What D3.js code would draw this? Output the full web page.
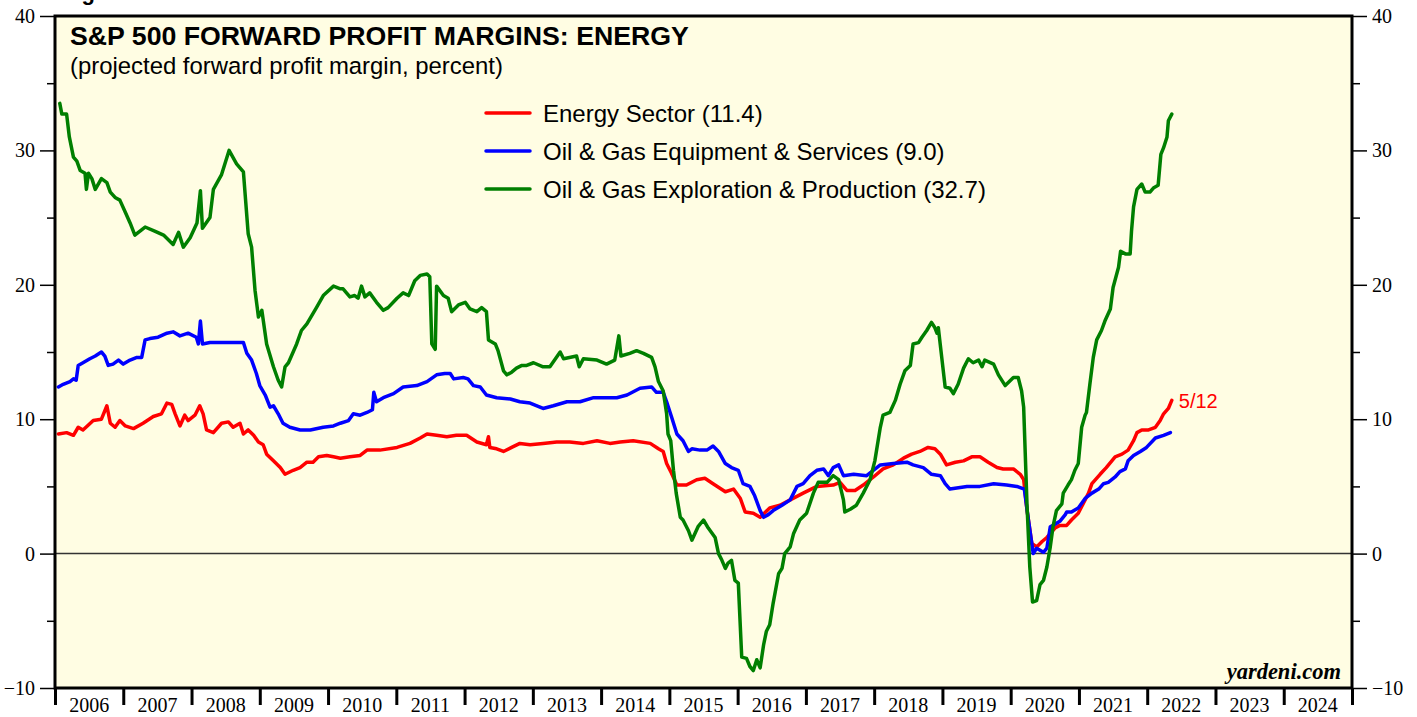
<!DOCTYPE html>
<html>
<head>
<meta charset="utf-8">
<script src="https://cdn.jsdelivr.net/npm/d3@7"></script>
<style>
    html, body { margin: 0; padding: 0; background: #ffffff; }
    svg { display: block; }
    .tick text { font-family: "Liberation Serif", "Times New Roman", serif; }
</style>
</head>
<body>
<div id="plot"></div>
<script>
// Data: [decimal year, percent].
const energy_sector = [
    [2006.05,8.9],[2006.17,9.0],[2006.27,8.8],[2006.34,9.4],[2006.41,9.2],[2006.56,9.9],[2006.68,10.0],
    [2006.76,11.0],[2006.81,9.7],[2006.88,9.4],[2006.95,9.9],[2007.03,9.5],[2007.15,9.3],[2007.29,9.7],
    [2007.44,10.2],[2007.56,10.4],[2007.64,11.2],[2007.71,11.1],[2007.76,10.4],[2007.83,9.5],[2007.90,10.3],
    [2007.95,9.9],[2008.05,10.3],[2008.12,11.0],[2008.17,10.4],[2008.22,9.2],[2008.32,9.0],[2008.44,9.7],
    [2008.54,9.8],[2008.61,9.4],[2008.71,9.7],[2008.76,8.9],[2008.83,9.2],[2008.91,8.8],[2008.98,8.3],
    [2009.05,8.1],[2009.10,7.4],[2009.20,6.9],[2009.30,6.4],[2009.37,5.9],[2009.49,6.2],[2009.59,6.4],
    [2009.69,6.8],[2009.78,6.8],[2009.86,7.2],[2009.98,7.3],[2010.08,7.2],[2010.18,7.1],[2010.32,7.2],
    [2010.47,7.3],[2010.57,7.7],[2010.76,7.7],[2011.01,7.9],[2011.20,8.2],[2011.35,8.6],[2011.45,8.9],
    [2011.59,8.8],[2011.74,8.7],[2011.88,8.8],[2012.03,8.8],[2012.18,8.3],[2012.32,8.1],[2012.35,8.7],
    [2012.37,7.9],[2012.47,7.8],[2012.57,7.6],[2012.69,7.9],[2012.81,8.2],[2012.96,8.1],[2013.15,8.2],
    [2013.35,8.3],[2013.54,8.3],[2013.74,8.2],[2013.94,8.4],[2014.13,8.2],[2014.28,8.3],[2014.47,8.4],
    [2014.72,8.2],[2014.84,7.8],[2014.91,7.6],[2014.96,6.7],[2015.03,6.0],[2015.11,5.1],[2015.25,5.1],
    [2015.40,5.5],[2015.52,5.6],[2015.64,5.2],[2015.82,4.6],[2015.94,4.8],[2016.04,4.1],[2016.11,3.1],
    [2016.23,3.0],[2016.33,2.7],[2016.47,3.4],[2016.62,3.6],[2016.77,4.0],[2016.96,4.5],[2017.16,5.0],
    [2017.40,5.1],[2017.50,5.3],[2017.60,4.7],[2017.72,4.7],[2017.84,5.1],[2017.99,5.7],[2018.13,6.3],
    [2018.28,6.6],[2018.43,7.1],[2018.55,7.4],[2018.67,7.6],[2018.79,7.9],[2018.89,7.8],[2018.97,7.4],
    [2019.06,6.6],[2019.19,6.8],[2019.31,6.9],[2019.43,7.2],[2019.55,7.2],[2019.67,6.8],[2019.80,6.4],
    [2019.89,6.3],[2020.04,6.3],[2020.14,5.9],[2020.19,5.5],[2020.24,3.2],[2020.31,0.75],[2020.38,0.5],
    [2020.46,0.9],[2020.53,1.2],[2020.65,1.9],[2020.72,2.1],[2020.82,2.1],[2020.89,2.5],[2020.99,3.0],
    [2021.06,3.7],[2021.14,4.5],[2021.19,5.2],[2021.31,5.9],[2021.40,6.4],[2021.53,7.2],[2021.63,7.4],
    [2021.72,7.7],[2021.80,8.4],[2021.85,9.0],[2021.92,9.2],[2022.02,9.2],[2022.12,9.4],[2022.19,9.9],
    [2022.24,10.4],[2022.31,10.8],[2022.36,11.4]
];

const equipment_services = [
    [2006.05,12.4],[2006.12,12.6],[2006.22,12.8],[2006.27,13.0],[2006.31,12.9],[2006.34,14.0],[2006.41,14.2],
    [2006.51,14.5],[2006.59,14.7],[2006.68,15.0],[2006.73,14.7],[2006.78,14.0],[2006.85,14.1],[2006.93,14.4],
    [2007.00,14.1],[2007.10,14.4],[2007.20,14.6],[2007.27,14.6],[2007.32,15.9],[2007.39,16.0],[2007.51,16.1],
    [2007.64,16.4],[2007.73,16.5],[2007.83,16.2],[2007.95,16.4],[2008.07,16.1],[2008.10,15.6],[2008.13,17.3],
    [2008.16,15.6],[2008.27,15.7],[2008.42,15.7],[2008.56,15.7],[2008.76,15.7],[2008.81,14.9],[2008.88,14.4],
    [2008.95,13.4],[2009.00,12.5],[2009.08,11.8],[2009.15,10.9],[2009.20,11.0],[2009.27,10.4],[2009.34,9.7],
    [2009.44,9.4],[2009.59,9.2],[2009.74,9.2],[2009.93,9.4],[2010.08,9.5],[2010.18,9.7],[2010.30,9.9],
    [2010.37,10.4],[2010.47,10.3],[2010.57,10.5],[2010.65,10.7],[2010.67,12.0],[2010.71,11.3],[2010.81,11.6],
    [2010.96,11.9],[2011.10,12.4],[2011.30,12.5],[2011.45,12.8],[2011.59,13.3],[2011.71,13.4],[2011.79,13.4],
    [2011.84,13.0],[2011.98,13.1],[2012.05,13.0],[2012.13,12.5],[2012.23,12.4],[2012.32,11.8],[2012.47,11.6],
    [2012.67,11.5],[2012.81,11.3],[2012.96,11.2],[2013.15,10.8],[2013.30,11.0],[2013.50,11.3],[2013.69,11.3],
    [2013.89,11.6],[2014.08,11.6],[2014.23,11.6],[2014.38,11.8],[2014.57,12.3],[2014.74,12.4],[2014.81,12.0],
    [2014.91,12.0],[2014.96,11.3],[2015.03,10.2],[2015.11,8.9],[2015.20,8.4],[2015.28,7.6],[2015.33,7.8],
    [2015.45,7.7],[2015.55,7.7],[2015.64,8.0],[2015.72,7.6],[2015.82,6.7],[2015.91,6.4],[2016.01,6.2],
    [2016.08,5.2],[2016.18,5.0],[2016.25,4.3],[2016.33,3.2],[2016.38,2.7],[2016.45,2.9],[2016.52,3.2],
    [2016.65,3.6],[2016.77,4.0],[2016.87,5.0],[2016.96,5.2],[2017.06,5.8],[2017.16,6.2],[2017.26,6.3],
    [2017.33,5.8],[2017.40,6.4],[2017.48,6.6],[2017.55,5.8],[2017.70,5.9],[2017.89,5.8],[2018.09,6.6],
    [2018.28,6.7],[2018.48,6.8],[2018.57,6.6],[2018.72,6.4],[2018.84,5.9],[2018.97,5.8],[2019.04,5.2],
    [2019.11,4.8],[2019.36,5.0],[2019.55,5.0],[2019.75,5.2],[2019.94,5.1],[2020.09,5.0],[2020.20,4.8],
    [2020.26,2.5],[2020.33,0.0],[2020.38,0.4],[2020.48,0.1],[2020.53,0.4],[2020.58,2.0],[2020.62,2.1],
    [2020.72,2.4],[2020.80,2.9],[2020.82,3.1],[2020.89,3.1],[2020.99,3.4],[2021.09,4.1],[2021.19,4.5],
    [2021.29,4.8],[2021.36,5.2],[2021.43,5.3],[2021.53,5.7],[2021.60,6.1],[2021.68,6.3],[2021.72,6.9],
    [2021.80,7.3],[2021.90,7.6],[2021.99,7.9],[2022.12,8.6],[2022.24,8.8],[2022.34,9.0]
];

const exploration_production = [
    [2006.07,33.5],[2006.10,32.7],[2006.17,32.7],[2006.21,31.0],[2006.27,29.5],[2006.32,29.2],[2006.37,28.5],
    [2006.44,28.3],[2006.46,27.1],[2006.49,28.3],[2006.54,27.9],[2006.59,27.1],[2006.68,27.9],[2006.76,27.6],
    [2006.81,26.9],[2006.88,26.5],[2006.95,26.3],[2007.03,25.4],[2007.10,24.6],[2007.17,23.7],[2007.32,24.3],
    [2007.46,24.0],[2007.59,23.7],[2007.73,23.0],[2007.81,23.9],[2007.88,22.8],[2007.98,23.5],[2008.08,24.6],
    [2008.13,27.0],[2008.16,24.2],[2008.27,25.0],[2008.32,27.1],[2008.44,28.2],[2008.55,30.0],[2008.66,29.0],
    [2008.76,28.4],[2008.83,23.8],[2008.88,22.8],[2008.93,19.6],[2008.98,17.6],[2009.03,18.1],[2009.10,15.6],
    [2009.20,13.9],[2009.27,12.9],[2009.32,12.4],[2009.37,13.9],[2009.42,14.2],[2009.54,15.6],[2009.61,16.6],
    [2009.69,17.1],[2009.83,18.3],[2009.93,19.2],[2010.08,19.9],[2010.18,19.7],[2010.22,19.7],[2010.32,19.1],
    [2010.39,19.2],[2010.44,19.0],[2010.49,19.9],[2010.54,19.1],[2010.61,19.4],[2010.71,18.7],[2010.81,18.1],
    [2010.88,18.3],[2011.01,19.0],[2011.10,19.4],[2011.18,19.2],[2011.27,20.3],[2011.35,20.7],[2011.45,20.8],
    [2011.49,20.6],[2011.52,15.6],[2011.57,15.2],[2011.59,19.9],[2011.69,19.2],[2011.76,19.0],[2011.81,18.0],
    [2011.91,18.5],[2012.01,18.7],[2012.08,18.2],[2012.18,18.0],[2012.25,18.3],[2012.32,18.0],[2012.35,15.9],
    [2012.45,15.6],[2012.49,15.1],[2012.57,13.6],[2012.62,13.3],[2012.69,13.5],[2012.76,13.8],[2012.84,14.0],
    [2012.91,14.0],[2013.01,14.2],[2013.15,13.9],[2013.25,13.9],[2013.40,15.0],[2013.45,14.5],[2013.64,14.7],
    [2013.68,13.9],[2013.74,14.5],[2013.94,14.4],[2014.08,14.1],[2014.20,14.4],[2014.26,16.2],[2014.29,14.7],
    [2014.42,14.9],[2014.52,15.1],[2014.62,14.9],[2014.74,14.6],[2014.79,13.9],[2014.84,12.8],[2014.91,12.1],
    [2014.96,10.4],[2014.98,8.9],[2015.02,8.4],[2015.06,6.2],[2015.10,4.5],[2015.16,2.7],[2015.20,2.5],
    [2015.28,1.7],[2015.33,1.0],[2015.42,2.0],[2015.50,2.5],[2015.57,1.9],[2015.67,1.2],[2015.72,0.0],
    [2015.77,-0.5],[2015.82,-1.1],[2015.86,-0.7],[2015.91,-0.5],[2015.96,-2.0],[2016.01,-2.2],[2016.06,-7.7],
    [2016.13,-7.8],[2016.18,-8.4],[2016.23,-8.7],[2016.28,-7.9],[2016.33,-8.5],[2016.38,-6.8],[2016.42,-5.8],
    [2016.47,-5.3],[2016.52,-3.7],[2016.60,-1.5],[2016.65,-1.1],[2016.69,0.0],[2016.77,0.5],[2016.82,1.5],
    [2016.91,2.5],[2017.01,3.0],[2017.11,4.5],[2017.18,5.3],[2017.31,5.3],[2017.40,5.8],[2017.48,5.5],
    [2017.55,4.0],[2017.57,3.1],[2017.65,3.3],[2017.74,3.6],[2017.84,4.5],[2017.94,5.5],[2018.01,6.9],
    [2018.09,9.4],[2018.13,10.3],[2018.23,10.5],[2018.31,11.4],[2018.38,12.6],[2018.45,13.6],[2018.53,14.0],
    [2018.57,15.6],[2018.65,15.7],[2018.70,16.1],[2018.77,16.6],[2018.84,17.2],[2018.89,16.8],[2018.92,16.4],
    [2018.94,16.8],[2018.99,14.6],[2019.04,12.4],[2019.11,12.3],[2019.16,11.9],[2019.23,12.6],[2019.31,13.8],
    [2019.38,14.5],[2019.45,14.2],[2019.53,14.4],[2019.58,13.9],[2019.62,14.4],[2019.75,14.1],[2019.82,13.3],
    [2019.92,12.5],[2020.04,13.1],[2020.11,13.1],[2020.16,12.1],[2020.19,10.9],[2020.24,3.5],[2020.28,-1.0],
    [2020.32,-3.6],[2020.38,-3.5],[2020.43,-2.3],[2020.48,-2.0],[2020.53,-1.0],[2020.58,0.5],[2020.62,2.0],
    [2020.67,3.2],[2020.75,3.7],[2020.77,4.5],[2020.84,5.1],[2020.89,5.5],[2020.94,6.2],[2020.99,6.7],
    [2021.04,9.4],[2021.09,10.3],[2021.11,10.5],[2021.16,12.6],[2021.21,14.6],[2021.26,15.9],[2021.33,16.6],
    [2021.38,17.3],[2021.46,18.2],[2021.50,19.8],[2021.58,21.3],[2021.61,22.5],[2021.68,22.3],[2021.75,22.3],
    [2021.77,24.0],[2021.80,25.8],[2021.85,27.1],[2021.92,27.5],[2021.97,26.9],[2022.04,26.9],[2022.09,27.2],
    [2022.16,27.4],[2022.20,29.7],[2022.24,30.2],[2022.29,31.0],[2022.31,32.2],[2022.36,32.7]
];

// Legend names and colours, drawn bottom to top in this order.
const series_names = ["Energy Sector (11.4)", "Oil & Gas Equipment & Services (9.0)",
                      "Oil & Gas Exploration & Production (32.7)"];
const series_colors = ["#ff0000", "#0000ff", "#007f00"];
const series_data = [energy_sector, equipment_services, exploration_production];

// Axis values.
const y_major = [-10, 0, 10, 20, 30, 40];
const y_minor = [-5, 5, 15, 25, 35];
const years = d3.range(2006, 2025);
const last_date_label = "5/12";

let MarginChart = class {
    // Canvas and plot box.
    width = 1417; height = 717;
    left = 55; right = 1352; top = 16; bottom = 688;

    constructor() {
        this.svg = d3.select("div#plot").append("svg")
            .attr("width", this.width)
            .attr("height", this.height);

        this.x = d3.scaleLinear().domain([2006, 2025]).range([this.left, this.right]);
        this.y = d3.scaleLinear().domain([-10, 40]).range([this.bottom, this.top]);
    }

    draw() {
        this.draw_background();
        this.draw_axes();
        this.draw_lines();
        this.draw_frame();
        this.draw_texts();
        this.draw_legend();
    }

    draw_background() {
        this.svg.append("rect")
            .attr("x", this.left).attr("y", this.top)
            .attr("width", this.right - this.left)
            .attr("height", this.bottom - this.top)
            .style("fill", "#fffde3");

        // Zero line.
        this.svg.append("line")
            .attr("x1", this.left).attr("x2", this.right)
            .attr("y1", this.y(0)).attr("y2", this.y(0))
            .style("stroke", "#333")
            .style("stroke-width", 1.5);
    }

    draw_axes() {
        var self = this;

        // Left and right value axes, with long labelled ticks and short minor ones.
        var sides = [
            {axis: d3.axisLeft, pos: this.left},
            {axis: d3.axisRight, pos: this.right}
        ];

        sides.forEach(function(s) {
            self.svg.append("g")
                .attr("transform", "translate(" + s.pos + ", 0)")
                .call(s.axis(self.y).tickValues(y_major).tickSize(15).tickPadding(5)
                    .tickFormat(d3.format("d")))
                .call(g => g.select(".domain").remove())
                .call(g => g.selectAll("line").style("stroke", "#000").style("stroke-width", 1.5))
                .call(g => g.selectAll("text")
                    .style("font-size", "20px")
                    .style("fill", "#000"));

            self.svg.append("g")
                .attr("transform", "translate(" + s.pos + ", 0)")
                .call(s.axis(self.y).tickValues(y_minor).tickSize(8).tickFormat(""))
                .call(g => g.select(".domain").remove())
                .call(g => g.selectAll("line").style("stroke", "#000").style("stroke-width", 1.5));
        });

        // Year boundaries below the plot.
        this.svg.append("g")
            .attr("transform", "translate(0, " + this.bottom + ")")
            .call(d3.axisBottom(this.x).tickValues(d3.range(2006, 2026)).tickSize(17).tickFormat(""))
            .call(g => g.select(".domain").remove())
            .call(g => g.selectAll("line").style("stroke", "#000").style("stroke-width", 3));

        // Year labels centred in each year; kept just inside the bottom edge.
        this.svg.append("g")
            .selectAll("text")
            .data(years)
            .join("text")
                .attr("x", d => this.x(d + 0.5))
                .attr("y", 712)
                .attr("text-anchor", "middle")
                .style("font-family", "'Liberation Serif', 'Times New Roman', serif")
                .style("font-size", "20px")
                .text(d => d);
    }

    draw_lines() {
        var line = d3.line()
            .x(d => this.x(d[0]))
            .y(d => this.y(d[1]));

        this.svg.append("g")
            .attr("id", "lines")
            .selectAll("path")
            .data(series_data)
            .join("path")
                .attr("d", line)
                .style("fill", "none")
                .style("stroke", (d, i) => series_colors[i])
                .style("stroke-width", 3.5)
                .style("stroke-linejoin", "round")
                .style("stroke-linecap", "round");
    }

    draw_frame() {
        this.svg.append("rect")
            .attr("x", this.left).attr("y", this.top)
            .attr("width", this.right - this.left)
            .attr("height", this.bottom - this.top)
            .style("fill", "none")
            .style("stroke", "#000")
            .style("stroke-width", 3);
    }

    draw_texts() {
        var sans = "'Liberation Sans', Arial, sans-serif";

        // Figure caption, clipped by the top of the page.
        this.svg.append("text")
            .attr("x", 62).attr("y", 0)
            .style("font-family", sans).style("font-weight", "bold").style("font-size", "22px")
            .text("Figure");

        this.svg.append("text")
            .attr("x", 70).attr("y", 45)
            .style("font-family", sans).style("font-weight", "bold").style("font-size", "26.7px")
            .text("S&P 500 FORWARD PROFIT MARGINS: ENERGY");

        this.svg.append("text")
            .attr("x", 70).attr("y", 74)
            .style("font-family", sans).style("font-size", "23.9px")
            .text("(projected forward profit margin, percent)");

        // Date of the last observation, next to the end of the red line.
        var last = energy_sector[energy_sector.length - 1];
        this.svg.append("text")
            .attr("x", this.x(last[0]) + 7)
            .attr("y", this.y(last[1]) + 8)
            .style("font-family", sans).style("font-size", "20px")
            .style("fill", "#ff0000")
            .text(last_date_label);

        this.svg.append("text")
            .attr("x", 1341).attr("y", 679)
            .attr("text-anchor", "end")
            .style("font-family", "'Liberation Serif', 'Times New Roman', serif")
            .style("font-weight", "bold").style("font-style", "italic").style("font-size", "22.5px")
            .text("yardeni.com");
    }

    draw_legend() {
        var legend = this.svg.append("g")
            .attr("transform", "translate(486, 113)");

        var rows = legend.selectAll("g")
            .data(series_names)
            .join("g")
                .attr("transform", (d, i) => "translate(0, " + (i * 38) + ")");

        rows.append("line")
            .attr("x1", 0).attr("x2", 44)
            .style("stroke", (d, i) => series_colors[i])
            .style("stroke-width", 3.5)
            .style("stroke-linecap", "round");

        rows.append("text")
            .attr("x", 57).attr("y", 8.5)
            .style("font-family", "'Liberation Sans', Arial, sans-serif")
            .style("font-size", "24px")
            .text(d => d);
    }
}

var chart = new MarginChart();
chart.draw();
</script>
</body>
</html>
